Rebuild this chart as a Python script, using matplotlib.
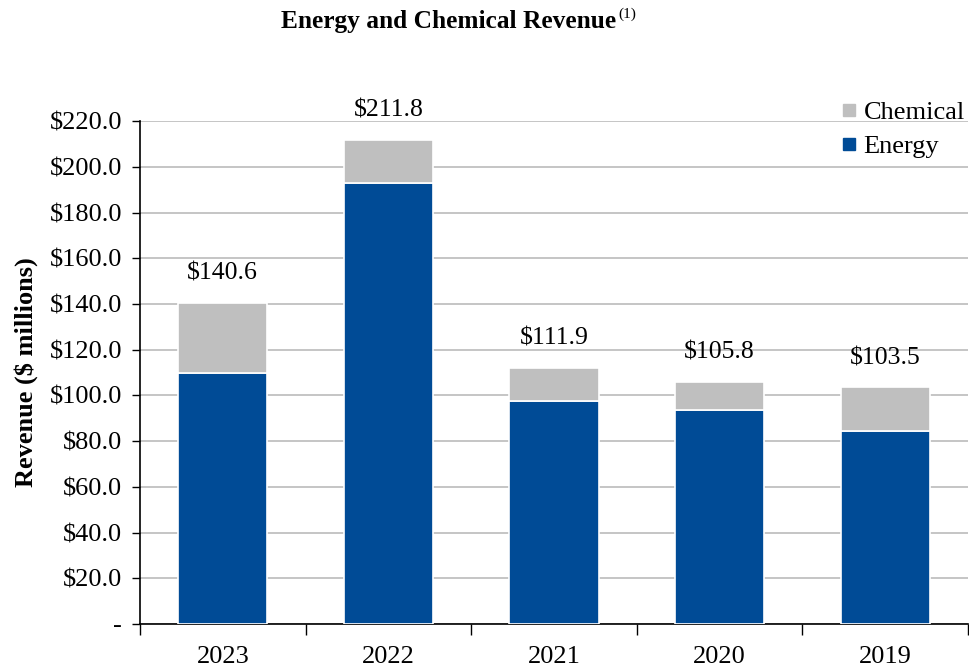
import matplotlib.pyplot as plt
from matplotlib.lines import Line2D
import numpy as np

# Colores
COLOR_ENERGIA = '#004B96'
COLOR_QUIMICO = '#BFBFBF'
COLOR_REJILLA = '#C0C0C0'

plt.rcParams['font.family'] = ['Liberation Serif', 'DejaVu Serif']

# Datos
years = ['2023', '2022', '2021', '2020', '2019']
energy = [110.0, 192.8, 97.6, 93.6, 84.4]
totals = [140.6, 211.8, 111.9, 105.8, 103.5]
chemical = [t - e for t, e in zip(totals, energy)]
total_labels = ['$140.6', '$211.8', '$111.9', '$105.8', '$103.5']
y_ticks = [0, 20, 40, 60, 80, 100, 120, 140, 160, 180, 200, 220]
y_tick_labels = ['-'] + ['${:.1f}'.format(v) for v in y_ticks[1:]]

fig = plt.figure(figsize=(9.7, 6.69), dpi=100)
ax = fig.add_axes([0.1443, 0.0673, 0.8537, 0.7517])

x = np.arange(len(years))
ax.bar(x, energy, width=0.54, color=COLOR_ENERGIA, edgecolor='white', linewidth=1.2, zorder=3)
ax.bar(x, chemical, bottom=energy, width=0.54, color=COLOR_QUIMICO, edgecolor='white', linewidth=1.2, zorder=3)

for xi, t, lab in zip(x, totals, total_labels):
    ax.text(xi, t + 8, lab, ha='center', va='bottom', fontsize=18.5)

ax.set_xlim(-0.5, len(years) - 0.5)
ax.set_ylim(0, 220)
ax.set_yticks(y_ticks)
ax.set_yticklabels(y_tick_labels, fontsize=19)
ax.yaxis.grid(True, color=COLOR_REJILLA, linewidth=1.3, zorder=0)
ax.set_axisbelow(True)

# Marcas entre categorias
ax.set_xticks(np.arange(-0.5, len(years), 1.0))
ax.set_xticklabels([])
ax.set_xticks(x, minor=True)
ax.set_xticklabels(years, minor=True, fontsize=19)
ax.tick_params(axis='x', which='major', length=8, width=1, direction='out')
ax.tick_params(axis='x', which='minor', length=0, pad=16)
ax.tick_params(axis='y', length=6, width=1, direction='out', pad=7)

ax.spines['top'].set_visible(False)
ax.spines['right'].set_visible(False)
ax.spines['left'].set_linewidth(1.2)
ax.spines['bottom'].set_linewidth(1.2)

ax.set_ylabel('Revenue ($ millions)', fontsize=19, fontweight='bold', labelpad=8)

handles = [Line2D([], [], marker='s', linestyle='none', markersize=9, color=COLOR_QUIMICO),
           Line2D([], [], marker='s', linestyle='none', markersize=9, color=COLOR_ENERGIA)]
ax.legend(handles, ['Chemical', 'Energy'], loc='upper right', bbox_to_anchor=(1.015, 1.072),
          frameon=False, fontsize=19, handlelength=0.5, handletextpad=0.3, labelspacing=0.4,
          borderaxespad=0.2)

titulo = fig.text(0.29, 0.968, 'Energy and Chemical Revenue', ha='left', va='center',
                  fontsize=18.3, fontweight='bold')
fig.canvas.draw()
bb = titulo.get_window_extent().transformed(fig.transFigure.inverted())
fig.text(bb.x1 + 0.002, 0.978, '(1)', ha='left', va='center', fontsize=11)

fig.savefig('out.png', dpi=100)
